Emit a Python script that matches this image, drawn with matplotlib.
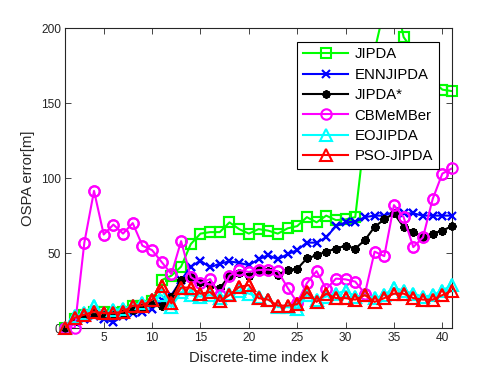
import matplotlib
matplotlib.use('Agg')
import matplotlib.pyplot as plt

# values
k = list(range(1, 42))

jipda = [0, 6, 9, 11, 11, 10, 11, 15, 15, 18, 32, 35, 41, 56, 63, 64, 64, 70.5, 66, 63,
         66, 65, 63, 66.5, 68, 74, 70.5, 75, 72, 72.5, 74, 130, 185, 213, 225, 194,
         185, 175, 165, 159, 158]
ennjipda = [0, 4, 6, 8, 6, 4, 8, 10, 11, 13, 19, 22, 32, 41, 45, 40.5, 43, 44.5, 43.5, 42,
            45.8, 48.7, 45.8, 49.3, 52, 57, 57, 60.5, 68, 70.5, 71, 74, 75, 75, 77.5, 76.5,
            76.5, 75, 75, 75, 75]
jipda_star = [0, 5, 8, 10, 9, 9, 10, 12, 14, 17, 15, 21, 32, 34, 31, 28.5, 26.5, 35, 36.5, 35,
              38.7, 38, 35.5, 39, 39.5, 46.5, 48.5, 51, 53, 55, 53, 58.7, 67.5, 72.5, 76.5, 67.5,
              64, 61, 63, 65, 68]
cbmember = [0, 0, 57, 91.5, 62.4, 69, 63, 70, 55, 52, 44, 36, 58, 34, 30, 32.7, 22, 35, 38.7, 37.5,
            38.7, 39, 38, 27, 17, 30, 38, 26, 33, 32.5, 31, 23, 51, 48, 82, 74,
            54, 60.5, 86, 103, 106.5]
eojipda = [0, 8, 10, 15, 10, 12, 13, 15, 17, 19, 22, 14, 24, 22, 21, 22, 20, 23, 25, 23,
           21, 19, 14, 14, 13, 22, 19, 21, 23, 25, 21, 22, 20, 22, 27, 25,
           23, 21, 22, 25, 29]
pso_jipda = [0, 7, 9, 11, 10, 10, 11, 15, 15, 19, 28, 16.5, 27, 27, 23, 24, 18, 22, 27.5, 28.7,
             20, 19, 15, 15, 16, 24, 17.5, 23, 20, 20, 19, 22, 17.5, 20, 23, 23,
             20, 19, 19, 22, 25]

labels = ['JIPDA', 'ENNJIPDA', 'JIPDA*', 'CBMeMBer', 'EOJIPDA', 'PSO-JIPDA']
series = [jipda, ennjipda, jipda_star, cbmember, eojipda, pso_jipda]
colors = ['#00ff00', '#0000ff', '#000000', '#ff00ff', '#00ffff', '#ff0000']
markers = ['s', 'x', (8, 2, 0), 'o', '^', '^']
msizes = [6.5, 6, 6, 7.5, 8, 8]

plt.rcParams['font.family'] = ['Liberation Sans', 'DejaVu Sans']
fig = plt.figure(figsize=(5, 3.75), dpi=100)
ax = fig.add_axes([0.13, 0.125, 0.774, 0.8])

for i, (y, lab, c, m, ms) in enumerate(zip(series, labels, colors, markers, msizes)):
    ax.plot(k, y, color=c, marker=m, markersize=ms, markerfacecolor='none',
            markeredgecolor=c, markeredgewidth=1.5, linewidth=1.5, label=lab,
            zorder=2 + i)
    # markers on the box edge are not cut off, like in the original
    kk = [a for a, b in zip(k, y) if b <= 200]
    yy = [b for b in y if b <= 200]
    ax.plot(kk, yy, linestyle='none', marker=m, markersize=ms, markerfacecolor='none',
            markeredgecolor=c, markeredgewidth=1.5, clip_on=False, zorder=2 + i)

ax.set_xlim(1, 41)
ax.set_ylim(0, 200)
ax.set_xticks(range(5, 41, 5))
ax.set_yticks([0, 50, 100, 150, 200])
dark = '#262626'
ax.tick_params(direction='in', top=True, right=True, length=4, width=0.6,
               labelsize=8.6, colors=dark, pad=3)
for s in ax.spines.values():
    s.set_color(dark)
    s.set_linewidth(0.8)
ax.set_xlabel('Discrete-time index k', fontsize=10.7, color=dark, labelpad=5)
ax.set_ylabel('OSPA error[m]', fontsize=10.7, color=dark, labelpad=4)

leg = ax.legend(loc='upper right', fontsize=10.7, frameon=True, fancybox=False,
                edgecolor='black', framealpha=1, handlelength=3.05, handletextpad=0.4,
                labelspacing=0.43, borderpad=0.4, borderaxespad=0.9)
leg.get_frame().set_linewidth(0.8)
leg.set_zorder(20)

plt.savefig('out.png', dpi=100)
